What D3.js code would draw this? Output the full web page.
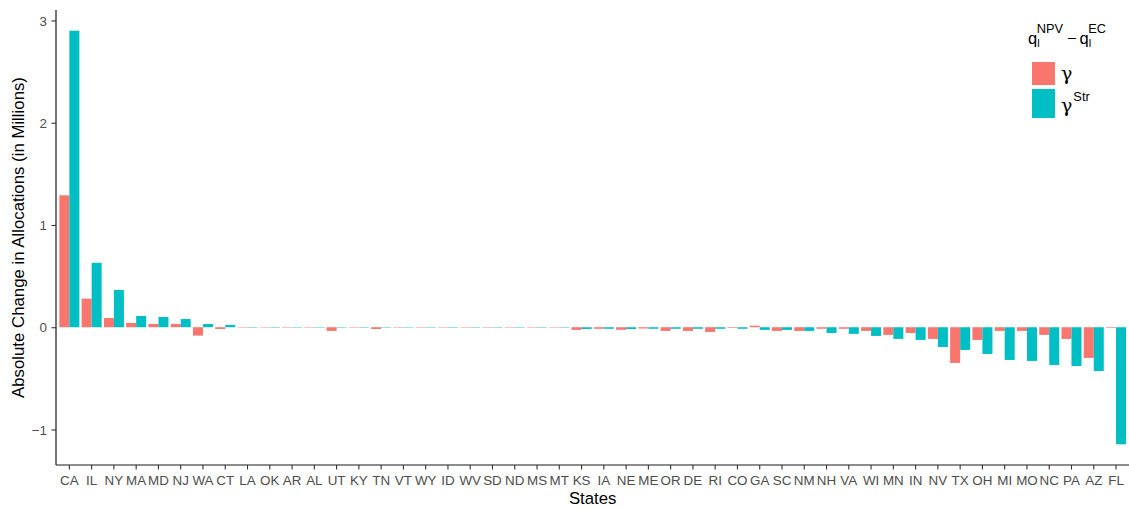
<!DOCTYPE html>
<html>
<head>
<meta charset="utf-8">
<script src="https://cdn.jsdelivr.net/npm/d3@7"></script>
<style>
  body { margin: 0; background: #fff; }
  svg { display: block; font-family: "Liberation Sans", Arial, sans-serif; }
</style>
</head>
<body>
<svg id="chart" width="1129" height="510"></svg>
<script>
const states = ["CA","IL","NY","MA","MD","NJ","WA","CT","LA","OK","AR","AL","UT","KY","TN","VT","WY","ID","WV","SD","ND","MS","MT","KS","IA","NE","ME","OR","DE","RI","CO","GA","SC","NM","NH","VA","WI","MN","IN","NV","TX","OH","MI","MO","NC","PA","AZ","FL"];
const gamma = [1.29,0.28,0.09,0.042,0.032,0.032,-0.082,-0.017,-0.004,-0.004,-0.004,-0.004,-0.036,-0.004,-0.017,-0.004,-0.004,-0.004,-0.004,-0.004,-0.004,-0.004,-0.004,-0.026,-0.015,-0.025,-0.012,-0.036,-0.036,-0.046,-0.006,0.015,-0.036,-0.036,-0.015,-0.015,-0.036,-0.075,-0.056,-0.114,-0.349,-0.124,-0.036,-0.036,-0.075,-0.114,-0.30,-0.006];
const gammaStr = [2.90,0.63,0.365,0.11,0.10,0.08,0.032,0.022,-0.004,-0.004,-0.004,-0.004,-0.004,-0.004,-0.004,-0.004,-0.004,-0.004,-0.004,-0.004,-0.004,-0.004,-0.004,-0.017,-0.015,-0.018,-0.015,-0.015,-0.015,-0.015,-0.015,-0.026,-0.026,-0.036,-0.056,-0.065,-0.085,-0.114,-0.124,-0.193,-0.222,-0.261,-0.32,-0.33,-0.369,-0.379,-0.428,-1.145];
const seriesKeys = ["gamma","gammaStr"];
const colors = ["#F8766D","#00BFC4"];
const yTicks = [-1,0,1,2,3];

const data = states.map((s,i) => ({state: s, gamma: gamma[i], gammaStr: gammaStr[i]}));

const svg = d3.select("#chart");
const pLeft = 56, pRight = 1129.4, pTop = 10, pBottom = 465;

const allVals = gamma.concat(gammaStr);
const lo = d3.min(allVals), hi = d3.max(allVals);
const pad = (hi - lo) * 0.05;

const x = d3.scaleBand().domain(states).range([pLeft, pRight]).paddingInner(0.1).paddingOuter(0.15);
const xs = d3.scaleBand().domain(seriesKeys).range([0, x.bandwidth()]).padding(0);
const y = d3.scaleLinear().domain([lo - pad, hi + pad]).range([pBottom, pTop]);
const color = d3.scaleOrdinal().domain(seriesKeys).range(colors);

// bars
const g = svg.append("g");
g.selectAll("g.grp").data(data).join("g")
  .attr("class", "grp")
  .attr("transform", d => `translate(${x(d.state)},0)`)
  .selectAll("rect").data(d => seriesKeys.map(k => ({key: k, value: d[k]}))).join("rect")
  .attr("x", d => xs(d.key))
  .attr("width", xs.bandwidth())
  .attr("y", d => y(Math.max(0, d.value)))
  .attr("height", d => Math.abs(y(d.value) - y(0)))
  .attr("fill", d => color(d.key));

// axes
const yAxis = d3.axisLeft(y).tickValues(yTicks).tickSize(4.5).tickPadding(4)
  .tickFormat(d => d < 0 ? "\u2212" + Math.abs(d) : String(d));
const ya = svg.append("g").attr("transform", `translate(${pLeft},0)`).call(yAxis);
ya.select(".domain").attr("d", `M0,${pTop}V${pBottom}`);

const xAxis = d3.axisBottom(x).tickSize(4.5).tickPadding(4);
const xa = svg.append("g").attr("transform", `translate(0,${pBottom})`).call(xAxis);
xa.select(".domain").attr("d", `M${pLeft},0H${pRight}`);

[ya, xa].forEach(a => {
  a.select(".domain").attr("stroke", "#1a1a1a").attr("stroke-width", 1.2);
  a.selectAll(".tick line").attr("stroke", "#333").attr("stroke-width", 1.1);
  a.selectAll(".tick text").attr("fill", "#4D4D4D").style("font-size", "13.4px")
    .style("font-family", "'Liberation Sans', Arial, sans-serif");
});
ya.selectAll(".tick text").attr("x", -9).attr("dy", "0.35em");
xa.selectAll(".tick text").attr("y", 20).attr("dy", 0);

// axis titles
svg.append("text").attr("x", (pLeft + pRight) / 2).attr("y", 504)
  .attr("text-anchor", "middle").style("font-size", "16.8px").attr("fill", "#000").text("States");
svg.append("text")
  .attr("transform", `translate(24,${(pTop + pBottom) / 2}) rotate(-90)`)
  .attr("text-anchor", "middle").style("font-size", "16.8px").attr("fill", "#000")
  .text("Absolute Change in Allocations (in Millions)");

// legend
const lg = svg.append("g");
const title = lg.append("text").attr("x", 1028).attr("y", 44).style("font-size", "16.5px").attr("fill", "#000");
title.append("tspan").text("q");
title.append("tspan").attr("dy", 3).style("font-size", "11px").text("l");
title.append("tspan").attr("dx", -3).attr("dy", -14).style("font-size", "12.8px").text("NPV");
title.append("tspan").attr("dy", 11).attr("dx", 4).text("\u2212");
title.append("tspan").attr("dx", 3).text("q");
title.append("tspan").attr("dy", 3).style("font-size", "11px").text("l");
title.append("tspan").attr("dx", -3).attr("dy", -14).style("font-size", "12.8px").text("EC");

const keys = [{y: 62, h: 23}, {y: 89, h: 29}];
seriesKeys.forEach((k, i) => {
  lg.append("rect").attr("x", 1032).attr("y", keys[i].y).attr("width", 23).attr("height", keys[i].h).attr("fill", colors[i]);
});
lg.append("text").attr("x", 1061).attr("y", 80).style("font-size", "19px")
  .style("font-family", "'DejaVu Serif', serif").attr("fill", "#000").text("\u03B3");
const l2 = lg.append("text").attr("x", 1061).attr("y", 112).style("font-size", "19px").attr("fill", "#000");
l2.append("tspan").style("font-family", "'DejaVu Serif', serif").text("\u03B3");
l2.append("tspan").attr("dx", 1).attr("dy", -11).style("font-size", "12.8px").text("Str");
</script>
</body>
</html>
